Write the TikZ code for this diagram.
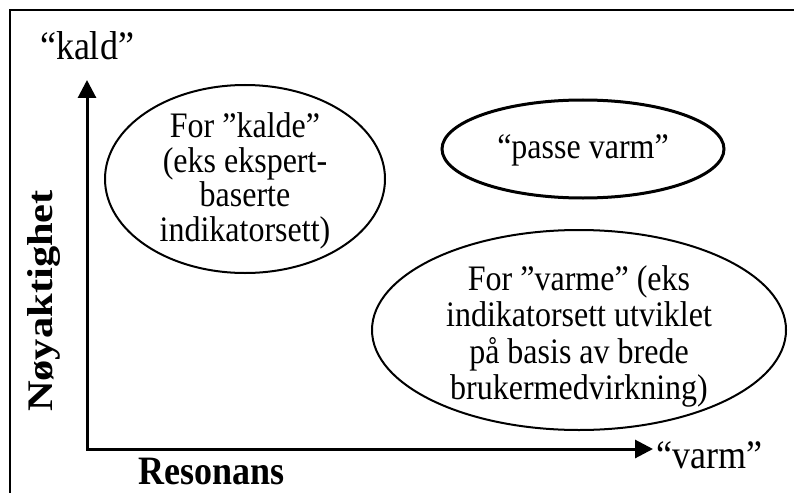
\documentclass[tikz,border=0pt]{standalone}
\usepackage{fontspec}
\usepackage{graphicx}
\setmainfont{Liberation Serif}
\usetikzlibrary{arrows.meta,shapes.geometric}
% slightly tall lettering
\newcommand{\tallrow}[1]{\scalebox{1}[1.12]{#1}}
\newcommand{\longrow}[1]{\scalebox{1.18}[1]{#1}}
\newcommand{\stack}[1]{\tallrow{\begin{tabular}{@{}c@{}}#1\end{tabular}}}
\begin{document}
\begin{tikzpicture}[x=1pt,y=-1pt,
  blob/.style={draw,ellipse,line width=2pt,inner sep=0pt},
  blobtext/.style={font=\fontsize{32}{29}\selectfont,inner sep=0pt},
  wideblobtext/.style={font=\fontsize{32}{32}\selectfont,inner sep=0pt},
  axislabel/.style={font=\fontsize{36}{40}\selectfont,inner sep=0pt},
  axistitle/.style={font=\fontsize{36}{40}\selectfont\bfseries,inner sep=0pt},
  axis/.style={line width=3pt,{Triangle[length=18pt,width=18pt]}-{Triangle[length=18pt,width=18pt]}}]
\useasboundingbox (0,0) rectangle (794,492);
\clip (0,0) rectangle (794,492);
% frame
\draw[line width=2pt] (10,10) rectangle (820,520);
% axes
\coordinate (origin) at (87,449);
\coordinate (ytip) at (87,80);
\coordinate (xtip) at (653,449);
\draw[axis] (ytip) -- (origin) -- (xtip);
\node[axislabel] (cold) at (87,46) {\tallrow{“kald”}};
\node[axislabel,anchor=west] (warm) at (656,455) {\tallrow{“varm”}};
\node[axistitle] (res) at (212,471) {\tallrow{Resonans}};
\node[axistitle,rotate=90] (acc) at (44,301) {\longrow{Nøyaktighet}};
% ellipses (yshift is on the page, so negative moves text down)
\node[blob,minimum width=280pt,minimum height=188pt] (e1) at (245,179) {};
\node[blobtext] (t1) at ([yshift=-3pt]e1.center) {\stack{For ”kalde”\\(eks ekspert-\\baserte\\indikatorsett)}};
\node[blob,line width=3pt,minimum width=282pt,minimum height=98pt] (e2) at (583,149) {};
\node[blobtext] (t2) at ([yshift=-1pt]e2.center) {\tallrow{“passe varm”}};
\node[blob,minimum width=414pt,minimum height=200pt] (e3) at (579,330) {};
\node[wideblobtext] (t3) at ([yshift=-8pt]e3.center) {\stack{For ”varme” (eks\\indikatorsett utviklet\\på basis av brede\\brukermedvirkning)}};
\end{tikzpicture}
\end{document}
